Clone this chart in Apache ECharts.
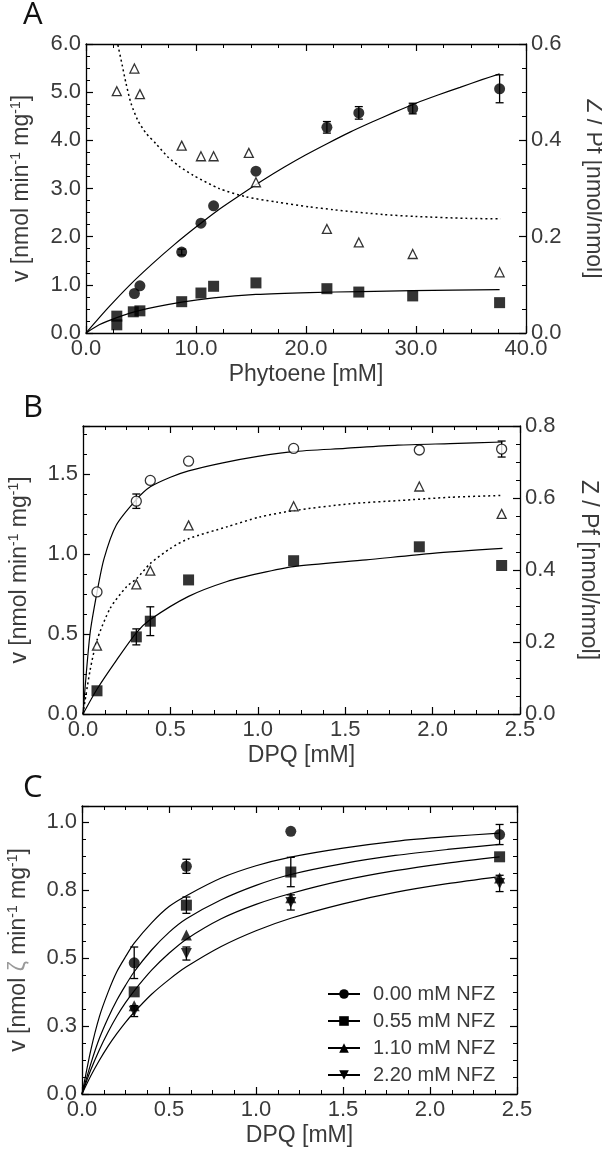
<!DOCTYPE html>
<html><head><meta charset="utf-8">
<script src="https://cdn.jsdelivr.net/npm/echarts@6/dist/echarts.min.js"></script>
<style>html,body{margin:0;padding:0;background:#fff}#c{width:602px;height:1157px}</style>
</head><body><div id="c"></div>
<script>
// ---------- Panel A (Phytoene) ----------
const aCircX = [4.4, 4.9, 8.7, 10.45, 11.6, 15.45, 21.9, 24.8, 29.7, 37.6];
const aCircY = [0.82, 0.98, 1.68, 2.28, 2.64, 3.36, 4.27, 4.57, 4.66, 5.07];
const aCircErr = [0, 0, 0.06, 0, 0, 0, 0.12, 0.13, 0.11, 0.29];
const aSqX = [2.8, 2.8, 4.3, 4.9, 8.7, 10.45, 11.6, 15.45, 21.9, 24.8, 29.7, 37.6];
const aSqY = [0.17, 0.35, 0.44, 0.46, 0.65, 0.83, 0.97, 1.04, 0.92, 0.85, 0.77, 0.63];
const aTriX = [2.8, 4.4, 4.9, 8.7, 10.45, 11.6, 14.8, 15.45, 21.9, 24.8, 29.7, 37.6];
const aTriY = [0.502, 0.549, 0.496, 0.389, 0.367, 0.367, 0.374, 0.313, 0.216, 0.188, 0.164, 0.126];
const aFitCircX = [0, 2, 4, 6, 8, 10, 12, 14, 16, 18, 20, 22, 24, 26, 28, 30, 32, 34, 36, 37.6];
const aFitCircY = [0, 0.52, 1.0, 1.43, 1.83, 2.2, 2.55, 2.86, 3.16, 3.44, 3.7, 3.94, 4.17, 4.38, 4.58, 4.77, 4.94, 5.1, 5.26, 5.38];
const aFitSqX = [0, 1.2, 2.8, 4.9, 8.7, 11.6, 15.45, 20.3, 25, 29.7, 37.6];
const aFitSqY = [0, 0.17, 0.32, 0.47, 0.64, 0.73, 0.8, 0.84, 0.86, 0.88, 0.9];
const aFitTriX = [2.9, 3.3, 3.64, 4.09, 4.7, 5.45, 6.36, 7.42, 8.48, 9.7, 12.1, 14.5, 17.3, 20.3, 22.5, 27, 30, 34.6, 37.7];
const aFitTriY = [0.598, 0.555, 0.518, 0.477, 0.442, 0.415, 0.393, 0.366, 0.346, 0.328, 0.30, 0.283, 0.272, 0.262, 0.256, 0.246, 0.242, 0.238, 0.237];

// ---------- Panel B (DPQ) ----------
const bX = [0.08, 0.305, 0.385, 0.604, 1.205, 1.924, 2.395];
const bCircY = [0.763, 1.33, 1.46, 1.58, 1.66, 1.65, 1.656];
const bCircErr = [0, 0.045, 0, 0, 0, 0, 0.05];
const bTriY = [0.19, 0.36, 0.398, 0.524, 0.577, 0.632, 0.556];
const bSqY = [0.145, 0.482, 0.58, 0.838, 0.958, 1.045, 0.928];
const bSqErr = [0, 0.05, 0.09, 0, 0, 0, 0];
const bFitCircX = [0, 0.04, 0.08, 0.12, 0.19, 0.305, 0.385, 0.5, 0.604, 0.8, 1.0, 1.2, 1.5, 1.8, 2.1, 2.4];
const bFitCircY = [0, 0.5, 0.76, 0.97, 1.18, 1.34, 1.42, 1.48, 1.52, 1.57, 1.61, 1.64, 1.66, 1.68, 1.69, 1.70];
const bFitTriX = [0, 0.04, 0.08, 0.156, 0.25, 0.305, 0.385, 0.5, 0.604, 0.824, 1.01, 1.205, 1.53, 1.81, 2.1, 2.4];
const bFitTriY = [0, 0.12, 0.205, 0.294, 0.354, 0.375, 0.418, 0.46, 0.487, 0.52, 0.547, 0.565, 0.584, 0.593, 0.602, 0.607];
const bFitSqX = [0, 0.08, 0.194, 0.305, 0.385, 0.604, 0.824, 1.014, 1.205, 1.62, 2.0, 2.4];
const bFitSqY = [0, 0.155, 0.34, 0.507, 0.59, 0.735, 0.828, 0.88, 0.921, 0.963, 1.004, 1.035];

// ---------- Panel C (DPQ + NFZ) ----------
const cNames = ['0.00 mM NFZ', '0.55 mM NFZ', '1.10 mM NFZ', '2.20 mM NFZ'];
const cX = [0.3, 0.6, 1.2, 2.4];
const cY0 = [0.483, 0.838, 0.967, 0.955];
const cE0 = [0.058, 0.026, 0, 0.037];
const cY1 = [0.376, 0.695, 0.817, 0.873];
const cE1 = [0, 0.03, 0.054, 0];
const cY2 = [0.325, 0.585, 0.722, 0.795];
const cE2 = [0, 0, 0, 0];
const cY3 = [0.305, 0.517, 0.705, 0.775];
const cE3 = [0.02, 0.024, 0.028, 0.03];
const cFitX = [0, 0.05, 0.1, 0.15, 0.2, 0.25, 0.3, 0.4, 0.5, 0.6, 0.8, 1.0, 1.2, 1.5, 1.8, 2.1, 2.4];
const cFit0 = [0, 0.16, 0.285, 0.375, 0.45, 0.505, 0.555, 0.63, 0.69, 0.73, 0.795, 0.84, 0.872, 0.905, 0.93, 0.947, 0.96];
const cFit1 = [0, 0.11, 0.205, 0.28, 0.345, 0.4, 0.45, 0.53, 0.595, 0.645, 0.715, 0.768, 0.808, 0.848, 0.878, 0.9, 0.919];
const cFit2 = [0, 0.088, 0.163, 0.228, 0.286, 0.336, 0.38, 0.456, 0.518, 0.57, 0.645, 0.698, 0.738, 0.786, 0.822, 0.85, 0.873];
const cFit3 = [0, 0.066, 0.124, 0.176, 0.222, 0.264, 0.301, 0.367, 0.421, 0.468, 0.543, 0.601, 0.647, 0.70, 0.742, 0.774, 0.80];

// ---------- helpers ----------
const FONT = '"Liberation Sans", Arial, sans-serif';
const TXT = '#3a3a3a';
const TF = 22;   // tick label size
const NF = 23;   // axis name size
const DOWN_TRI = 'path://M0,0 L10,0 L5,9 Z';

function pairs(xs, ys) { return xs.map((x, i) => [x, ys[i]]); }
function errData(xs, ys, es) {
  const out = [];
  xs.forEach((x, i) => { if (es[i] > 0) out.push([x, ys[i] - es[i], ys[i] + es[i]]); });
  return out;
}
function axisBase(gridIndex, min, max, interval, position, showLabel, dec) {
  return {
    type: 'value', gridIndex, min, max, interval, position,
    axisLine: { show: true, onZero: false, lineStyle: { color: '#000', width: 1.3 } },
    axisTick: { show: true, inside: true, length: 7, lineStyle: { color: '#000', width: 1.2 } },
    minorTick: { show: true, splitNumber: 4, length: 4, lineStyle: { color: '#000', width: 1 } },
    splitLine: { show: false }, minorSplitLine: { show: false },
    axisLabel: {
      show: showLabel, color: TXT, fontSize: TF, fontFamily: FONT, margin: 5,
      showMaxLabel: Math.abs(max / interval - Math.round(max / interval)) < 1e-9,
      formatter: v => v.toFixed(dec)
    }
  };
}
function named(ax, name, gap, rotate, extra) {
  ax.name = name; ax.nameLocation = 'middle'; ax.nameGap = gap;
  if (rotate !== undefined) ax.nameRotate = rotate;
  ax.nameTextStyle = Object.assign({ color: TXT, fontSize: NF, fontFamily: FONT }, extra || {});
  return ax;
}
const supRich = {
  sup: { fontSize: 14, fontFamily: FONT, color: TXT, verticalAlign: 'top', lineHeight: 14 },
  z: { fontSize: NF, fontFamily: FONT, color: '#9a9a9a', lineHeight: 26 }
};
function pts(xi, yi, xs, ys, symbol, size, filled) {
  return {
    type: 'scatter', xAxisIndex: xi, yAxisIndex: yi, data: pairs(xs, ys), symbol, symbolSize: size,
    itemStyle: filled ? { color: '#000' } : { color: '#fff', borderColor: '#000', borderWidth: 1.3 },
    z: 5, silent: true
  };
}
function curve(xi, yi, xs, ys, dotted, extra) {
  return Object.assign({
    type: 'line', xAxisIndex: xi, yAxisIndex: yi, data: pairs(xs, ys), smooth: 0.25,
    showSymbol: false, symbol: 'none',
    lineStyle: { color: '#000', width: dotted ? 1.5 : 1.2, type: dotted ? [2, 3] : 'solid' },
    itemStyle: { color: '#000' }, z: 3, silent: true
  }, extra || {});
}
function errSeries(xi, yi, data) {
  return {
    type: 'custom', xAxisIndex: xi, yAxisIndex: yi, data, z: 4, silent: true,
    encode: { x: 0, y: [1, 2] },
    renderItem: (params, api) => {
      const x = api.value(0);
      const lo = api.coord([x, api.value(1)]);
      const hi = api.coord([x, api.value(2)]);
      const w = 4, st = { stroke: '#000', lineWidth: 1.3 };
      return { type: 'group', children: [
        { type: 'line', shape: { x1: lo[0], y1: lo[1], x2: hi[0], y2: hi[1] }, style: st },
        { type: 'line', shape: { x1: lo[0] - w, y1: lo[1], x2: lo[0] + w, y2: lo[1] }, style: st },
        { type: 'line', shape: { x1: hi[0] - w, y1: hi[1], x2: hi[0] + w, y2: hi[1] }, style: st }
      ] };
    }
  };
}

const vName = 'v [nmol min{sup|-1} mg{sup|-1}]';
const vNameC = 'v [nmol {z|ζ} min{sup|-1} mg{sup|-1}]';
const xAxes = [
  named(axisBase(0, 0, 40, 10, 'bottom', true, 1), 'Phytoene [mM]', 30),
  axisBase(0, 0, 40, 10, 'top', false, 1),
  named(axisBase(1, 0, 2.5, 0.5, 'bottom', true, 1), 'DPQ [mM]', 30),
  axisBase(1, 0, 2.5, 0.5, 'top', false, 1),
  named(axisBase(2, 0, 2.5, 0.5, 'bottom', true, 1), 'DPQ [mM]', 30),
  axisBase(2, 0, 2.5, 0.5, 'top', false, 1)
];
const yAxes = [
  named(axisBase(0, 0, 6, 1, 'left', true, 1), vName, 51, 90, { rich: supRich, lineHeight: 26 }),
  named(axisBase(0, 0, 0.6, 0.2, 'right', true, 1), 'Z / Pf [nmol/nmol]', 56, -90),
  named(axisBase(1, 0, 1.8, 0.5, 'left', true, 1), vName, 50, 90, { rich: supRich, lineHeight: 26 }),
  named(axisBase(1, 0, 0.8, 0.2, 'right', true, 1), 'Z / Pf [nmol/nmol]', 57, -90),
  named(axisBase(2, 0, 1.06, 0.25, 'left', true, 1), vNameC, 50, 90, { rich: supRich, lineHeight: 26 }),
  axisBase(2, 0, 1.06, 0.25, 'right', false, 1)
];

const series = [
  // A
  curve(0, 0, aFitCircX, aFitCircY, false),
  curve(0, 0, aFitSqX, aFitSqY, false),
  curve(0, 1, aFitTriX, aFitTriY, true),
  errSeries(0, 0, errData(aCircX, aCircY, aCircErr)),
  pts(0, 0, aCircX, aCircY, 'circle', 11, true),
  pts(0, 0, aSqX, aSqY, 'rect', 11, true),
  pts(0, 1, aTriX, aTriY, 'triangle', 9, false),
  // B
  curve(2, 2, bFitCircX, bFitCircY, false),
  curve(2, 3, bFitTriX, bFitTriY, true),
  curve(2, 2, bFitSqX, bFitSqY, false),
  errSeries(2, 2, errData(bX, bCircY, bCircErr)),
  errSeries(2, 2, errData(bX, bSqY, bSqErr)),
  pts(2, 2, bX, bCircY, 'circle', 10, false),
  pts(2, 3, bX, bTriY, 'triangle', 9, false),
  pts(2, 2, bX, bSqY, 'rect', 11, true),
  // C
  curve(4, 4, cFitX, cFit0, false, { name: cNames[0], symbol: 'circle' }),
  curve(4, 4, cFitX, cFit1, false, { name: cNames[1], symbol: 'rect' }),
  curve(4, 4, cFitX, cFit2, false, { name: cNames[2], symbol: 'triangle' }),
  curve(4, 4, cFitX, cFit3, false, { name: cNames[3], symbol: DOWN_TRI }),
  errSeries(4, 4, errData(cX, cY0, cE0)),
  errSeries(4, 4, errData(cX, cY1, cE1)),
  errSeries(4, 4, errData(cX, cY2, cE2)),
  errSeries(4, 4, errData(cX, cY3, cE3)),
  pts(4, 4, cX, cY0, 'circle', 11, true),
  pts(4, 4, cX, cY1, 'rect', 11, true),
  pts(4, 4, cX, cY2, 'triangle', 11, true),
  pts(4, 4, cX, cY3, DOWN_TRI, 11, true)
];

const panelTitle = (t, top) => ({ text: t, left: 23, top, padding: 0,
  textStyle: { fontFamily: '"Open Sans", sans-serif', fontSize: 31, fontWeight: 'normal', color: '#111' } });

const option = {
  animation: false,
  backgroundColor: '#fff',
  title: [panelTitle('A', 0), panelTitle('B', 393), panelTitle('C', 773)],
  grid: [
    { left: 86, right: 76, top: 44, height: 289, containLabel: false, outerBoundsMode: 'none' },
    { left: 83, right: 82, top: 426, height: 288, containLabel: false, outerBoundsMode: 'none' },
    { left: 82, right: 85, top: 806, height: 288, containLabel: false, outerBoundsMode: 'none' }
  ],
  legend: {
    data: cNames, orient: 'vertical', left: 322, top: 979, itemWidth: 32, itemHeight: 12, itemGap: 7,
    selectedMode: false,
    textStyle: { color: TXT, fontSize: 20, fontFamily: FONT, padding: [0, 0, 0, 8] }
  },
  xAxis: xAxes,
  yAxis: yAxes,
  series
};
const chart = echarts.init(document.getElementById('c'), null, { renderer: 'canvas' });
chart.setOption(option);
</script>
</body></html>
